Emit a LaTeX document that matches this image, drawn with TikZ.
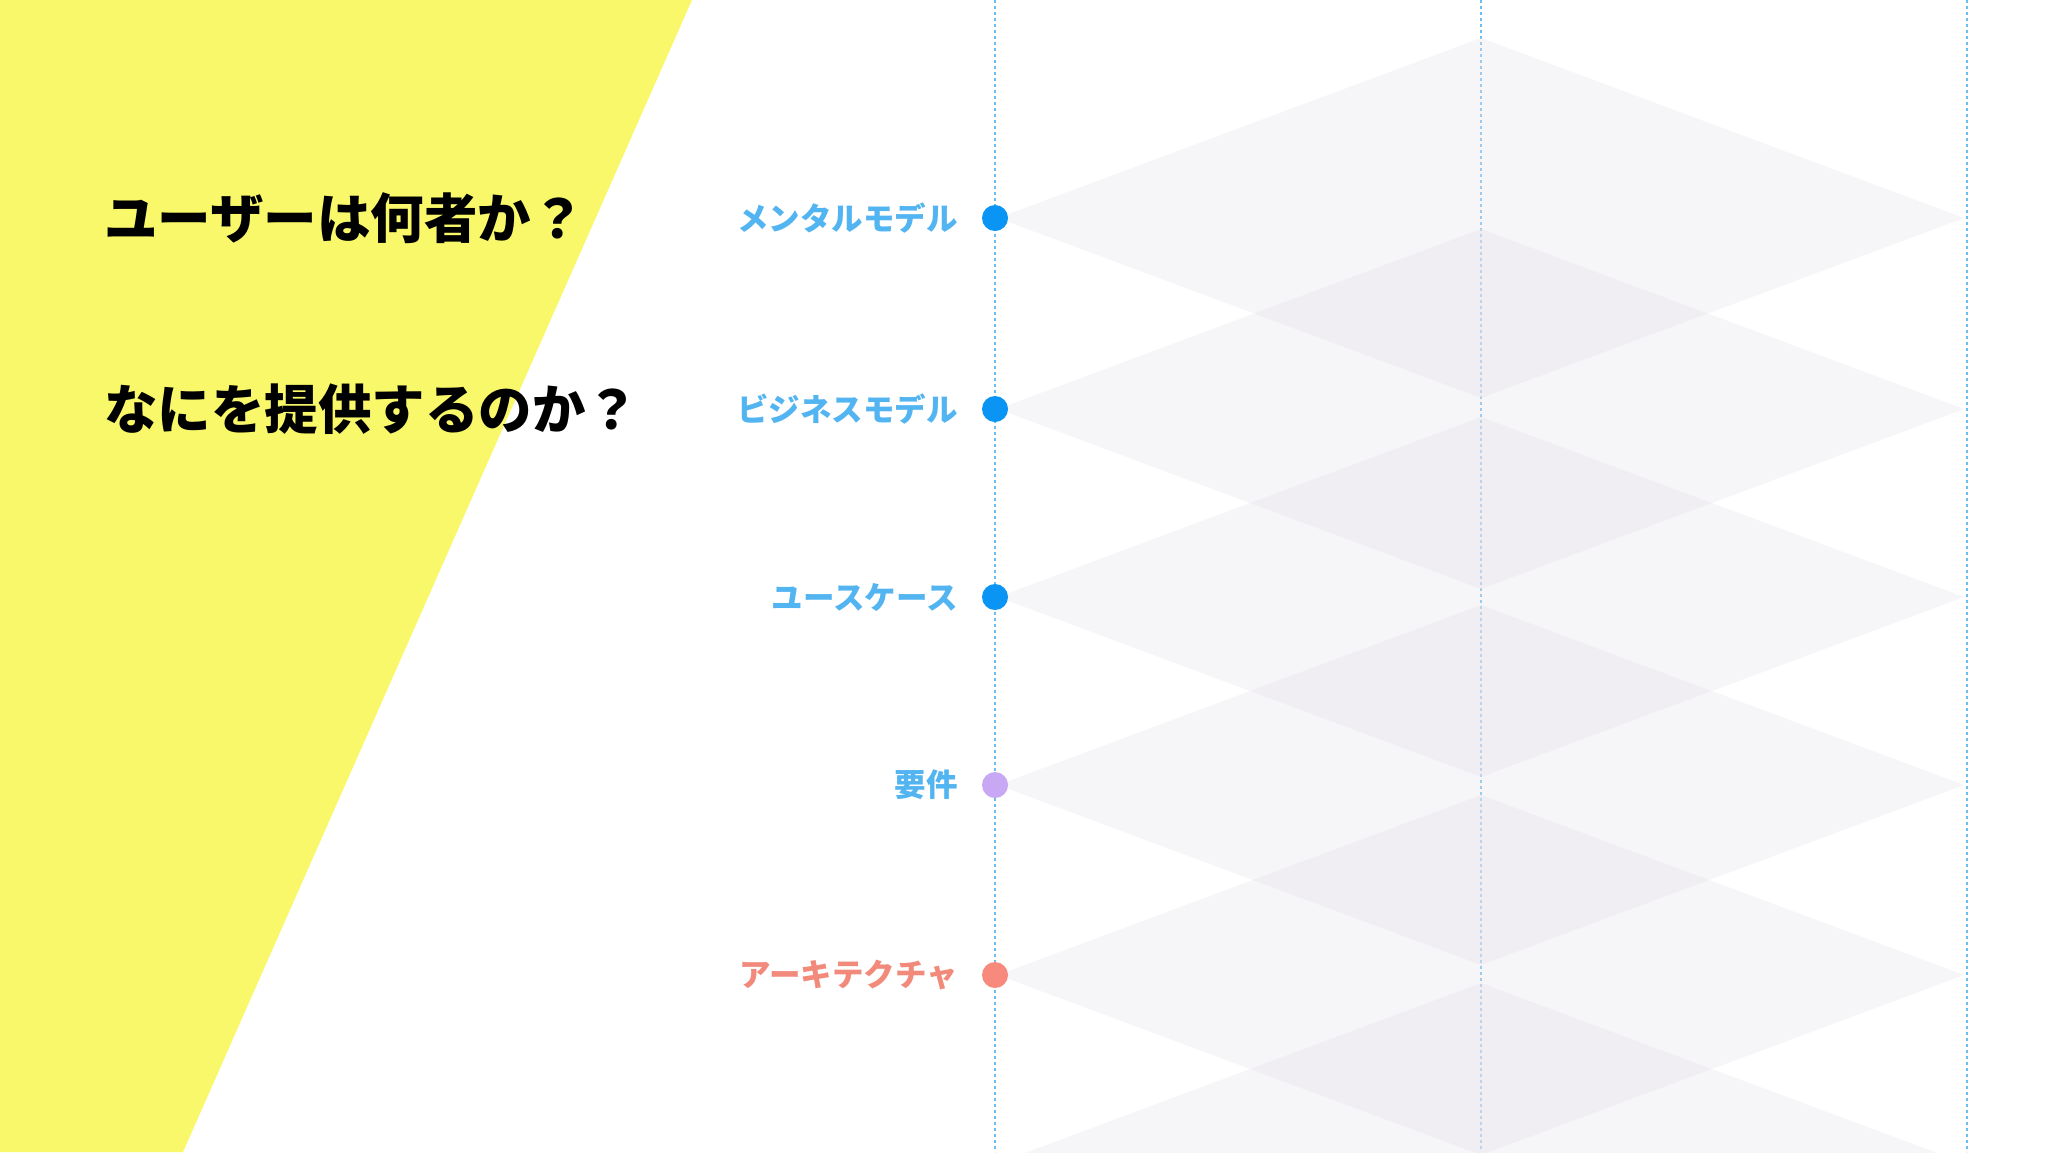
\documentclass[tikz,border=0pt]{standalone}
\usepackage{fontspec}
\newfontfamily\jp{Noto Sans CJK JP}
\newfontfamily\jpblack{Noto Sans CJK JP Black}
\definecolor{yel}{RGB}{248,248,106}
\definecolor{lineblue}{RGB}{108,189,240}
\definecolor{diamc}{RGB}{232,229,236}
\definecolor{dotblue}{RGB}{10,149,245}
\definecolor{dotpurple}{RGB}{200,168,245}
\definecolor{dotsalmon}{RGB}{247,138,124}
\definecolor{labelblue}{RGB}{82,180,240}
\definecolor{labelsalmon}{RGB}{242,138,124}
\begin{document}
\begin{tikzpicture}[x=1pt,y=-1pt,
  vline/.style={draw=lineblue, line width=1.4pt, dash pattern=on 2.5pt off 3.5pt},
  diam/.style={fill=diamc, fill opacity=0.38},
  dotnode/.style={circle, minimum size=26pt, inner sep=0pt},
  lbl/.style={anchor=east, font=\jp\bfseries\fontsize{31.5}{31.5}\selectfont, text=labelblue, inner sep=0pt},
  head/.style={anchor=west, font=\jpblack\fontsize{53.5}{53.5}\selectfont, text=black, inner sep=0pt}]
\useasboundingbox (0,0) rectangle (2048,1152);
\fill[white] (0,0) rectangle (2048,1152);
\fill[yel] (0,0) -- (692,0) -- (183,1152) -- (0,1152) -- cycle;
% vertical dotted guides
\foreach \x/\n in {995/ga,1481/gb,1967/gc} {
  \coordinate (\n top) at (\x,0);
  \coordinate (\n bot) at (\x,1152);
  \draw[vline] (\n top) -- (\n bot);
}
% stacked diamonds
\foreach \y in {218,409,597,785,975,1163} {
  \fill[diam] (998,\y) -- (1481,\y-180) -- (1964,\y) -- (1481,\y+180) -- cycle;
}
% dots
\node[dotnode, fill=dotblue]   (d1) at (995,218) {};
\node[dotnode, fill=dotblue]   (d2) at (995,409) {};
\node[dotnode, fill=dotblue]   (d3) at (995,597) {};
\node[dotnode, fill=dotpurple] (d4) at (995,785) {};
\node[dotnode, fill=dotsalmon] (d5) at (995,975) {};
% labels
\node[lbl] (l1) at (958,218) {メンタルモデル};
\node[lbl] (l2) at (958,409) {ビジネスモデル};
\node[lbl] (l3) at (958,597) {ユースケース};
\node[lbl] (l4) at (958,785) {要件};
\node[lbl, text=labelsalmon] (l5) at (958,975) {アーキテクチャ};
% headlines
\node[head] (h1) at (104,218) {ユーザーは何者か？};
\node[head] (h2) at (104,409) {なにを提供するのか？};
\end{tikzpicture}
\end{document}
